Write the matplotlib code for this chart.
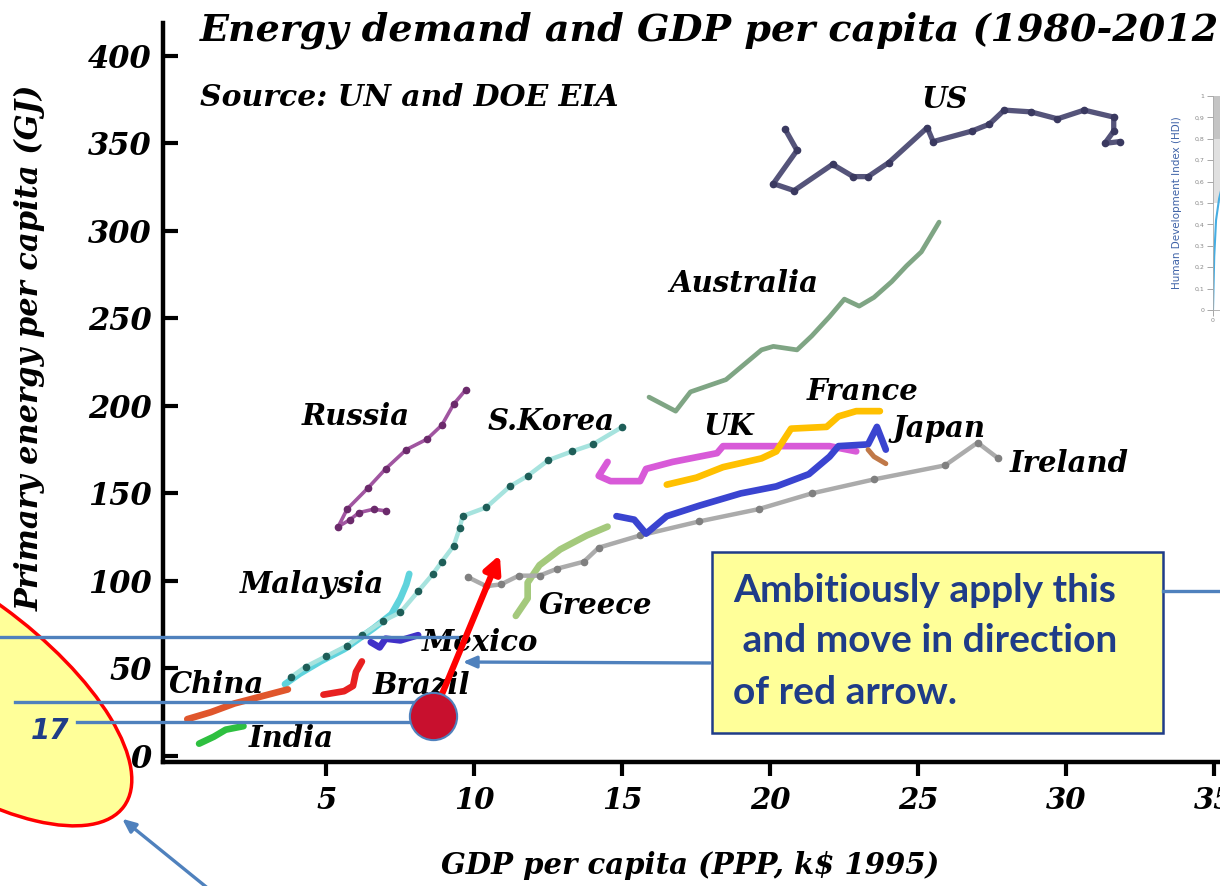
import numpy as np
import matplotlib
matplotlib.use("Agg")
from matplotlib import pyplot as plt
from matplotlib.patches import Ellipse, Rectangle

# GDP per capita (PPP, k$ 1995) vs primary energy per capita (GJ)
us_gdp = [20.5, 20.9, 20.1, 20.8, 22.1, 22.8, 23.3, 24.0, 25.3, 25.5, 26.8, 27.4, 27.9, 28.8, 29.7, 30.6, 31.6, 31.6, 31.3, 31.8]
us_energy = [358, 346, 327, 323, 338, 331, 331, 339, 359, 351, 357, 361, 369, 368, 364, 369, 365, 357, 350, 351]

australia_gdp = [15.9, 16.8, 17.3, 18.5, 19.7, 20.1, 20.9, 21.4, 22.0, 22.5, 23.0, 23.5, 24.1, 24.6, 25.1, 25.7]
australia_energy = [205, 197, 208, 215, 232, 234, 232, 240, 251, 261, 257, 262, 271, 280, 288, 305]

russia_gdp = [9.7, 9.3, 8.9, 8.4, 7.7, 7.0, 6.4, 5.7, 5.4, 5.8, 6.1, 6.6, 7.0]
russia_energy = [209, 201, 189, 181, 175, 164, 153, 141, 131, 135, 139, 141, 140]

skorea_gdp = [3.8, 4.3, 5.0, 5.7, 6.2, 6.9, 7.5, 8.1, 8.6, 8.9, 9.3, 9.5, 9.6, 10.4, 11.2, 11.8, 12.5, 13.3, 14.0, 15.0]
skorea_energy = [45, 51, 57, 63, 69, 77, 82, 94, 104, 111, 120, 130, 137, 142, 154, 160, 169, 174, 178, 188]

malaysia_gdp = [3.6, 4.1, 4.8, 5.6, 6.1, 6.6, 7.2, 7.5, 7.7, 7.8]
malaysia_energy = [41, 47, 54, 61, 67, 73, 81, 90, 98, 104]

china_gdp = [0.3, 1.1, 1.9, 2.8, 3.7]
china_energy = [21, 25, 30, 34, 38]

india_gdp = [0.7, 1.2, 1.6, 2.2]
india_energy = [7, 11, 15, 17]

brazil_gdp = [4.9, 5.6, 5.9, 6.0, 6.2]
brazil_energy = [35, 37, 40, 48, 54]

mexico_gdp = [6.5, 6.8, 7.0, 7.5, 8.1]
mexico_energy = [65, 62, 67, 66, 69]

greece_gdp = [11.4, 11.8, 11.8, 12.2, 12.9, 13.8, 14.5]
greece_energy = [80, 90, 99, 109, 118, 126, 131]

ireland_gdp = [9.8, 10.4, 10.9, 11.5, 12.2, 12.8, 13.7, 14.2, 15.6, 17.6, 19.6, 21.4, 23.5, 25.9, 27.0, 27.7]
ireland_energy = [102, 97, 98, 103, 103, 107, 111, 119, 126, 134, 141, 150, 158, 166, 179, 170]

japan_gdp = [14.8, 15.4, 15.8, 16.5, 17.6, 19.0, 20.2, 21.3, 22.0, 22.3, 23.3, 23.6, 23.9]
japan_energy = [137, 135, 127, 137, 143, 150, 154, 161, 171, 177, 178, 188, 175]

uk_gdp = [14.5, 14.2, 14.6, 15.6, 15.8, 16.7, 18.2, 18.4, 20.1, 22.0, 22.9]
uk_energy = [168, 160, 157, 157, 164, 168, 173, 177, 177, 177, 174]

france_gdp = [16.5, 17.5, 18.4, 19.7, 20.2, 20.7, 21.9, 22.3, 22.9, 23.7]
france_energy = [155, 159, 165, 170, 174, 187, 188, 194, 197, 197]

other_gdp = [23.3, 23.5, 23.9]
other_energy = [175, 171, 167]

label_names = ["US", "Australia", "France", "UK", "Japan", "Ireland", "Russia", "S.Korea",
               "Malaysia", "Greece", "Mexico", "China", "Brazil", "India"]
label_gdp = [25.9, 19.1, 23.1, 18.6, 25.7, 30.1, 6.0, 12.6, 4.5, 14.1, 10.2, 1.3, 8.2, 3.8]
label_energy = [375, 270, 208, 188, 187, 167, 194, 191, 98, 86, 65, 41, 40, 10]

x_ticks = [5, 10, 15, 20, 25, 30, 35]
y_ticks = [0, 50, 100, 150, 200, 250, 300, 350, 400]

# the point marked on the slide and where the red arrow points
target_gdp, target_energy = 8.6, 22.9
arrow_from = (8.84, 32.6)
arrow_to = (10.86, 114.9)

# small HDI chart peeking in at the right edge
hdi_energy = [0, 0.2, 0.5, 1.0, 1.5, 3, 6]
hdi_index = [0, 0.25, 0.42, 0.52, 0.58, 0.68, 0.78]

SERIF = "DejaVu Serif"
NAVY = "#1f3c88"
SLIDE_BLUE = "#4f81bd"
YELLOW = "#ffff99"

fig = plt.figure(figsize=(12.2, 8.86), dpi=100)
ax = fig.add_axes([0.1336, 0.1399, 0.8664, 0.834])
ax.set_xlim(-0.52, 35.19)
ax.set_ylim(-3.5, 418.7)
for side in ("top", "right"):
    ax.spines[side].set_visible(False)
for side in ("left", "bottom"):
    ax.spines[side].set_linewidth(3.2)
ax.set_xticks(x_ticks)
ax.set_yticks(y_ticks)
ax.tick_params(axis="y", direction="in", length=11, width=3, pad=8)
ax.tick_params(axis="x", direction="out", length=10, width=3, pad=7)
for lab in ax.get_yticklabels():
    lab.set_fontfamily(SERIF)
    lab.set_fontweight("bold")
    lab.set_fontstyle("italic")
    lab.set_fontsize(22)
for lab in ax.get_xticklabels():
    lab.set_fontfamily(SERIF)
    lab.set_fontweight("bold")
    lab.set_fontstyle("italic")
    lab.set_fontsize(21)


def draw(gdp, energy, color, lw=4, dots=None):
    ax.plot(gdp, energy, color=color, lw=lw, solid_capstyle="round",
            solid_joinstyle="round", zorder=3)
    if dots:
        ax.plot(gdp, energy, ls="none", marker="o", ms=4.5, color=dots, zorder=3)


draw(us_gdp, us_energy, "#55547a", 3.8, dots="#3a3960")
draw(australia_gdp, australia_energy, "#7fa584", 3.4)
draw(russia_gdp, russia_energy, "#a055a0", 2.6, dots="#6b2a6b")
draw(malaysia_gdp, malaysia_energy, "#5fd3dc", 4.8)
draw(skorea_gdp, skorea_energy, "#a6e3de", 3.2, dots="#1e5e58")
draw(china_gdp, china_energy, "#e0562c", 4.8)
draw(india_gdp, india_energy, "#2ec040", 4.8)
draw(brazil_gdp, brazil_energy, "#e82020", 4.8)
draw(mexico_gdp, mexico_energy, "#4030c8", 4.8)
draw(greece_gdp, greece_energy, "#a4c97c", 4.8)
draw(ireland_gdp, ireland_energy, "#ababab", 3.2, dots="#808080")
draw(uk_gdp, uk_energy, "#d85ad8", 4.8)
draw(france_gdp, france_energy, "#ffc000", 4.8)
draw(japan_gdp, japan_energy, "#3a44d0", 4.8)
draw(other_gdp, other_energy, "#c07848", 3.6)

for name, gx, ey in zip(label_names, label_gdp, label_energy):
    ax.text(gx, ey, name, ha="center", va="center", fontfamily=SERIF,
            fontweight="bold", fontstyle="italic", fontsize=21, zorder=4)

# the closing bracket of the title falls off the slide in the original
fig.text(200 / 1220, 1 - 30 / 886, "Energy demand and GDP per capita (1980-2012",
         ha="left", va="center", fontfamily=SERIF, fontweight="bold",
         fontstyle="italic", fontsize=27.4)
fig.text(200 / 1220, 1 - 97 / 886, "Source: UN and DOE EIA", ha="left", va="center",
         fontfamily=SERIF, fontweight="bold", fontstyle="italic", fontsize=21.5)
fig.text(30 / 1220, 1 - 348 / 886, "Primary energy per capita (GJ)", rotation=90,
         ha="center", va="center", fontfamily=SERIF, fontweight="bold",
         fontstyle="italic", fontsize=22)
fig.text(690 / 1220, 1 - 866 / 886, "GDP per capita (PPP, k$ 1995)", ha="center",
         va="center", fontfamily=SERIF, fontweight="bold", fontstyle="italic",
         fontsize=21)

# HDI inset, cut off by the right edge
ax_hdi = fig.add_axes([1213 / 1220, 1 - 310 / 886, 0.2, 214 / 886], zorder=1)
ax_hdi.set_xlim(0, 40)
ax_hdi.set_ylim(0, 1)
ax_hdi.axhspan(0.8, 1.0, color="#c4c4c4", lw=0)
ax_hdi.axhspan(0.5, 0.8, color="#e0e0e0", lw=0)
ax_hdi.plot(hdi_energy, hdi_index, color="#45ade2", lw=1.5)
ax_hdi.set_yticks(np.arange(0, 1.01, 0.1))
ax_hdi.set_yticklabels(["0"] + [f"0,{i}" for i in range(1, 10)] + ["1"])
ax_hdi.set_xticks([0])
ax_hdi.set_xticklabels(["0"])
ax_hdi.tick_params(labelsize=4.5, colors="#999999", labelcolor="#888888", length=4, width=0.6, pad=2)
for side in ("top", "right"):
    ax_hdi.spines[side].set_visible(False)
for side in ("left", "bottom"):
    ax_hdi.spines[side].set_color("#aaaaaa")
    ax_hdi.spines[side].set_linewidth(0.6)
ax_hdi.set_ylabel("Human Development Index (HDI)", fontsize=7.5, color="#3f63a8")
ax_hdi.yaxis.set_label_coords(-0.127, 0.5)

# slide annotations on top, in pixel coordinates
ov = fig.add_axes([0, 0, 1, 1], zorder=5)
ov.set_xlim(0, 1220)
ov.set_ylim(886, 0)
ov.axis("off")

ov.add_patch(Ellipse((-50, 680), width=430, height=180, angle=36,
                     facecolor=YELLOW, edgecolor="#ff0000", lw=2.5))
ov.text(50, 731, "17", ha="center", va="center", fontfamily="DejaVu Sans",
        fontweight="bold", fontstyle="italic", fontsize=20, color=NAVY)

ov.plot([0, 457], [637, 637], color=SLIDE_BLUE, lw=2.4)
ov.plot([15, 415], [702, 702], color=SLIDE_BLUE, lw=2.4)
ov.plot([77, 410], [722, 722], color=SLIDE_BLUE, lw=2.4)
ov.plot([1163, 1220], [591, 591], color=SLIDE_BLUE, lw=2.4)
ov.annotate("", xy=(460, 662), xytext=(713, 663),
            arrowprops=dict(arrowstyle="-|>,head_length=0.8,head_width=0.35",
                            color=SLIDE_BLUE, lw=2.4))
ov.annotate("", xy=(120, 817), xytext=(210, 890),
            arrowprops=dict(arrowstyle="-|>,head_length=0.8,head_width=0.35",
                            color=SLIDE_BLUE, lw=2.4))

ov.annotate("", xy=arrow_to, xytext=arrow_from, xycoords=ax.transData,
            textcoords=ax.transData, zorder=6,
            arrowprops=dict(arrowstyle="-|>,head_length=1.0,head_width=0.5",
                            color="#ff0000", lw=4.5, shrinkA=0, shrinkB=0))
ov.plot([target_gdp], [target_energy], transform=ax.transData, marker="o", ms=34,
        mfc="#c8102e", mec=SLIDE_BLUE, mew=1.5, ls="none", zorder=7, clip_on=False)

ov.add_patch(Rectangle((712, 552), 451, 181, facecolor=YELLOW, edgecolor=NAVY, lw=1.8))
box_lines = ["Ambitiously apply this", " and move in direction", "of red arrow."]
for i, line in enumerate(box_lines):
    ov.text(733, 590 + 51 * i, line, ha="left", va="center", fontfamily="Lato",
            fontweight="bold", fontsize=28, color=NAVY)

fig.savefig("out.png", dpi=100)
